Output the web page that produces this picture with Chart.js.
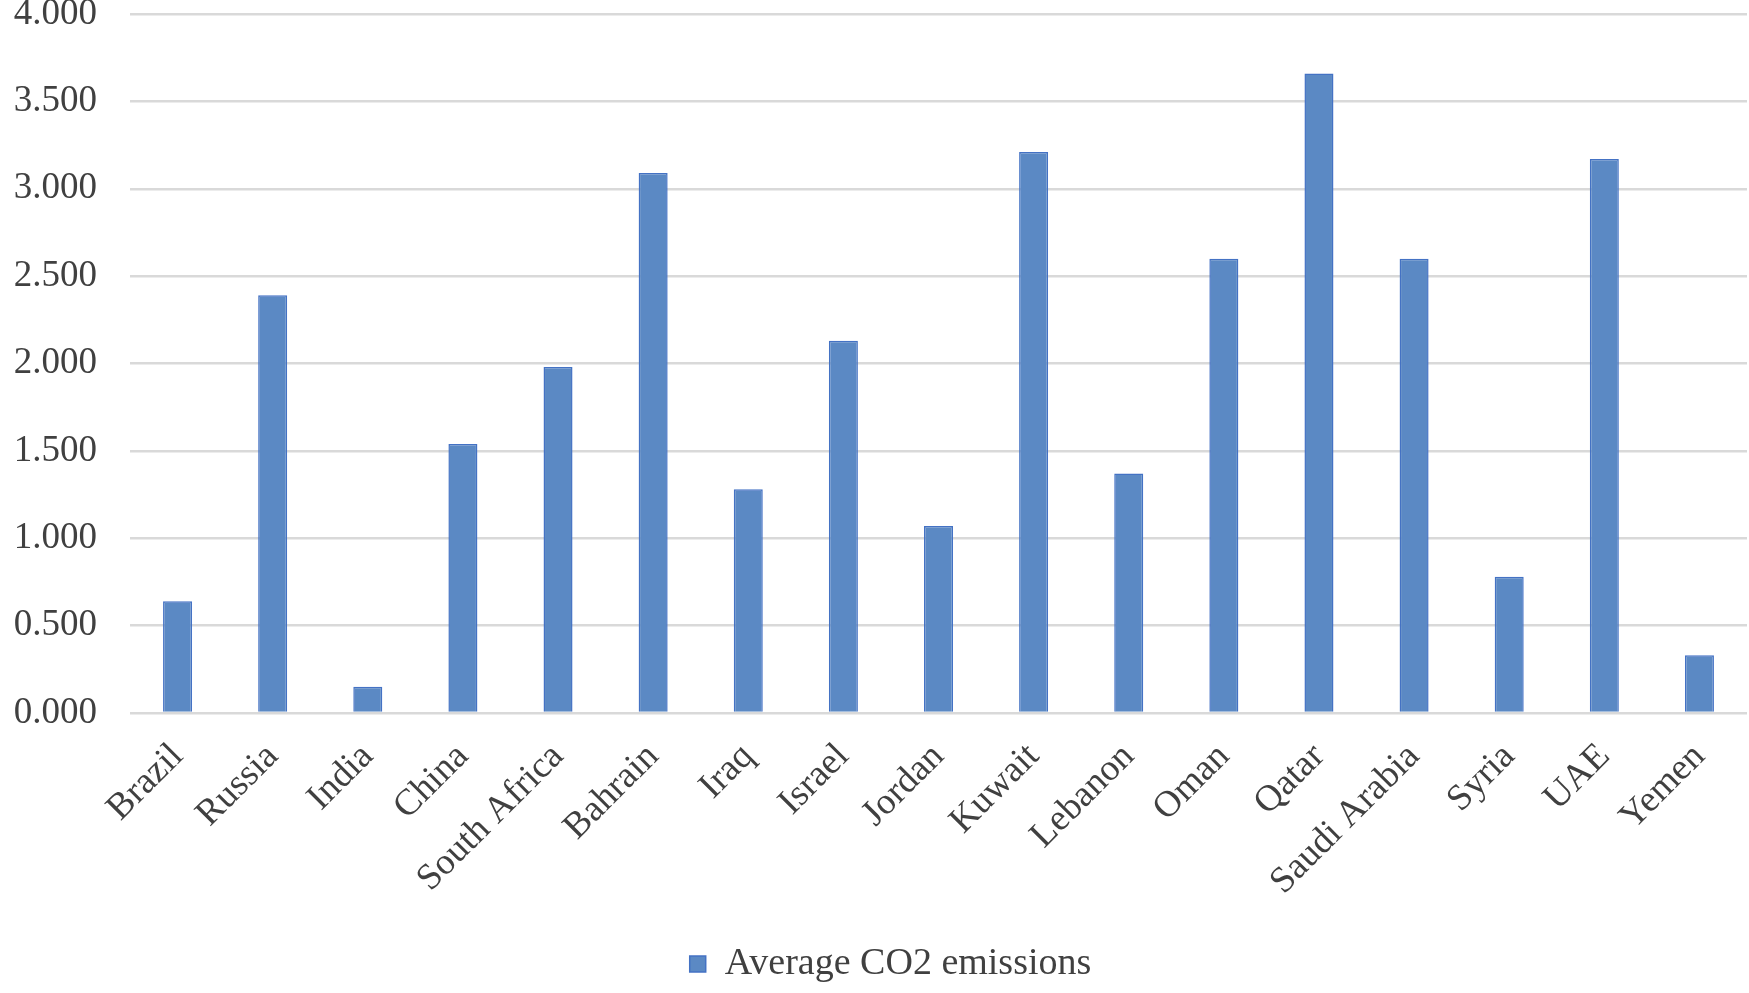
<!DOCTYPE html>
<html>
<head>
<meta charset="utf-8">
<script src="https://cdn.jsdelivr.net/npm/chart.js@4.4.0/dist/chart.umd.min.js"></script>
<style>
html,body{margin:0;padding:0;background:#fff;}
#wrap{width:1749px;height:993px;}
</style>
</head>
<body>
<div id="wrap"><canvas id="c" width="1749" height="993"></canvas></div>
<script>
const categories = ["Brazil","Russia","India","China","South Africa","Bahrain","Iraq","Israel","Jordan","Kuwait","Lebanon","Oman","Qatar","Saudi Arabia","Syria","UAE","Yemen"];
const co2Values = [0.64,2.39,0.15,1.54,1.98,3.09,1.28,2.13,1.07,3.21,1.37,2.60,3.66,2.60,0.78,3.17,0.33];
const seriesName = "Average CO2 emissions";
const yTicks = [0,0.5,1,1.5,2,2.5,3,3.5,4];

const FONT = "'Liberation Serif','Times New Roman',serif";
const TEXT = '#404040';

const legendShift = {
  id: 'legendShift',
  afterLayout(chart) {
    const lg = chart.legend;
    if (lg) { lg.left += 17; lg.right += 17; }
  }
};

new Chart(document.getElementById('c'), {
  type: 'bar',
  data: {
    labels: categories,
    datasets: [{
      label: seriesName,
      data: co2Values,
      backgroundColor: '#5B89C4',
      borderColor: '#4472C4',
      borderWidth: 1.5,
      barPercentage: 0.305,
      categoryPercentage: 1.0
    }]
  },
  plugins: [legendShift],
  options: {
    responsive: false,
    animation: false,
    devicePixelRatio: 1,
    layout: { padding: { top: 14, right: 2, left: 0, bottom: 0 } },
    plugins: {
      tooltip: { enabled: false },
      legend: {
        display: true,
        position: 'bottom',
        labels: {
          font: { family: FONT, size: 38 },
          color: TEXT,
          boxWidth: 16,
          boxHeight: 16,
          padding: 10
        }
      }
    },
    scales: {
      x: {
        grid: { display: false, drawTicks: false },
        border: { display: false },
        ticks: {
          font: { family: FONT, size: 37 },
          color: TEXT,
          minRotation: 45,
          maxRotation: 45,
          autoSkip: false,
          padding: 22
        },
        afterFit: (s) => { s.height = 222; s.paddingLeft = 0; s.paddingRight = 0; }
      },
      y: {
        min: 0,
        max: 4,
        afterBuildTicks: (s) => { s.ticks = yTicks.map(v => ({ value: v })); },
        grid: { color: '#D9D9D9', lineWidth: 2.5, drawTicks: false },
        border: { display: false },
        ticks: {
          font: { family: FONT, size: 37 },
          color: TEXT,
          padding: 33,
          callback: (v) => Number(v).toFixed(3)
        },
        afterFit: (s) => { s.width = 130; s.paddingTop = 0; s.paddingBottom = 0; }
      }
    }
  }
});
</script>
</body>
</html>
